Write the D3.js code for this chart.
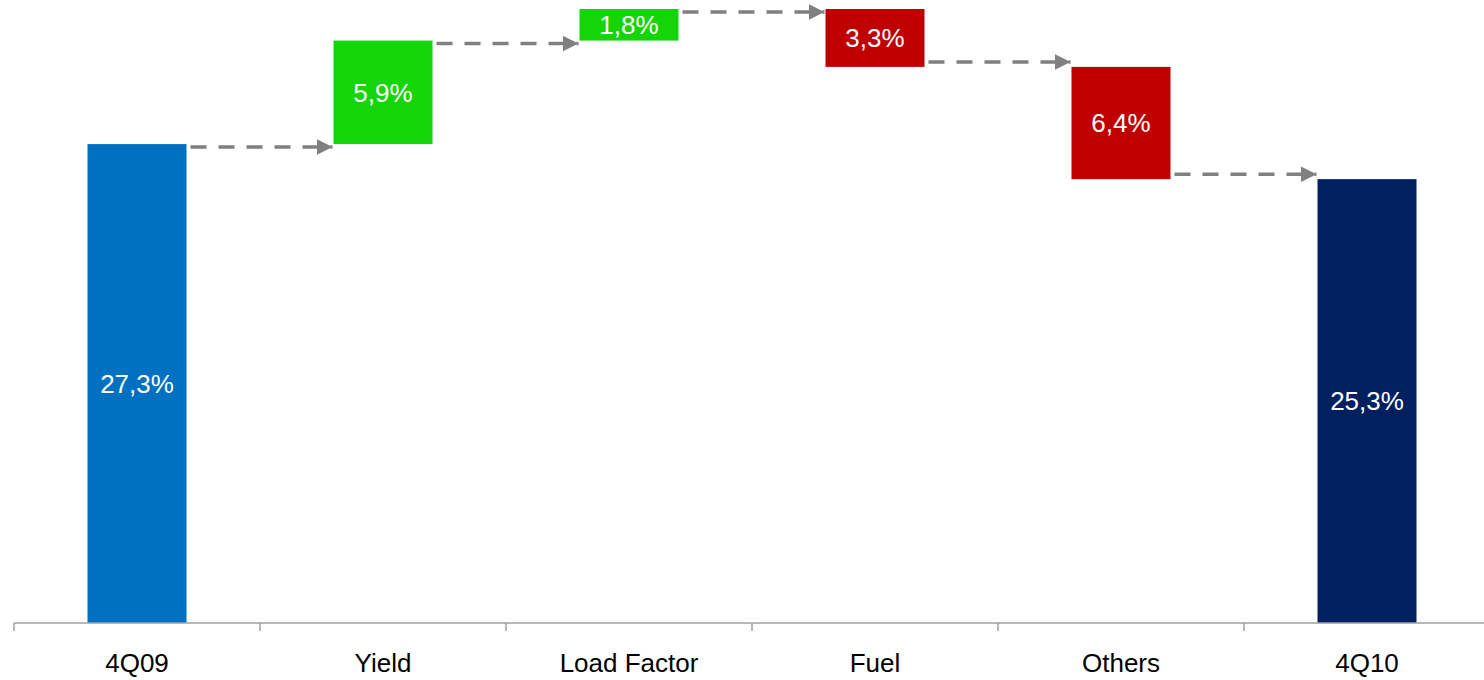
<!DOCTYPE html>
<html>
<head>
<meta charset="utf-8">
<script src="https://cdn.jsdelivr.net/npm/d3@7"></script>
<style>
  body { margin: 0; background: #fff; }
  text { font-family: "Liberation Sans", Arial, sans-serif; }
</style>
</head>
<body>
<div id="svgcontainer"></div>
<script>
// data
var categories = ["4Q09", "Yield", "Load Factor", "Fuel", "Others", "4Q10"];
var amounts = [27.3, 5.9, 1.8, -3.3, -6.4, 25.3];
var kinds = ["start", "up", "up", "down", "down", "total"];
var labels = ["27,3%", "5,9%", "1,8%", "3,3%", "6,4%", "25,3%"];

var colors = { start: "#0070C0", up: "#13D507", down: "#C00000", total: "#002060" };

var W = 1484, H = 680;
var baseY = 623;

var svg = d3.select("#svgcontainer")
    .append("svg")
    .attr("width", W)
    .attr("height", H);

// running totals
var data = [];
var cumulative = 0;
for (var i = 0; i < categories.length; i++) {
    var d = { name: categories[i], kind: kinds[i], label: labels[i] };
    if (kinds[i] == "start" || kinds[i] == "total") {
        d.start = 0;
        d.end = amounts[i];
    } else {
        d.start = cumulative;
        d.end = cumulative + amounts[i];
    }
    cumulative = d.end;
    data.push(d);
}

var x = d3.scaleBand()
    .domain(categories)
    .range([14, 14 + 246 * categories.length])
    .paddingInner(0)
    .paddingOuter(0);

var y = d3.scaleLinear()
    .domain([0, 35])
    .range([baseY, 9]);

var barW = 99;
var barX = function(d) { return x(d.name) + x.bandwidth() / 2 - barW / 2; };

// bars
svg.append("g")
    .selectAll("rect")
    .data(data)
    .join("rect")
    .attr("x", barX)
    .attr("y", function(d) { return y(Math.max(d.start, d.end)); })
    .attr("width", barW)
    .attr("height", function(d) { return Math.abs(y(d.start) - y(d.end)); })
    .attr("fill", function(d) { return colors[d.kind]; });

// bar labels
svg.append("g")
    .selectAll("text")
    .data(data)
    .join("text")
    .attr("x", function(d) { return x(d.name) + x.bandwidth() / 2; })
    .attr("y", function(d) { return (y(d.start) + y(d.end)) / 2; })
    .attr("dy", "0.36em")
    .attr("text-anchor", "middle")
    .attr("fill", "#fff")
    .style("font-size", "26px")
    .text(function(d) { return d.label; });

// arrow head
svg.append("defs").append("marker")
    .attr("id", "arrow")
    .attr("viewBox", "0 0 10 10")
    .attr("refX", 10)
    .attr("refY", 5)
    .attr("markerWidth", 16)
    .attr("markerHeight", 16)
    .attr("markerUnits", "userSpaceOnUse")
    .attr("orient", "auto")
    .append("path")
    .attr("d", "M0,0 L10,5 L0,10 Z")
    .attr("fill", "#808080");

// dashed connectors
var links = data.slice(0, data.length - 1).map(function(d, i) {
    var off = (d.kind == "down") ? -5 : 3;
    return { from: d, to: data[i + 1], yy: y(d.end) + off };
});

svg.append("g")
    .selectAll("line")
    .data(links)
    .join("line")
    .attr("x1", function(l) { return barX(l.from) + barW + 4; })
    .attr("x2", function(l) { return barX(l.to) - 1; })
    .attr("y1", function(l) { return l.yy; })
    .attr("y2", function(l) { return l.yy; })
    .attr("stroke", "#808080")
    .attr("stroke-width", 3.5)
    .attr("stroke-dasharray", "16,12")
    .attr("marker-end", "url(#arrow)");

// axis
var axis = svg.append("g")
    .attr("transform", "translate(0," + baseY + ")")
    .call(d3.axisBottom(x).tickSize(0).tickPadding(31));

axis.select(".domain")
    .attr("stroke", "#a0a0a0")
    .attr("stroke-width", 1.5)
    .attr("d", "M14,0H1484");

axis.selectAll(".tick text")
    .style("font-size", "26px")
    .style("font-family", "Liberation Sans, Arial, sans-serif")
    .attr("fill", "#000");

// tick marks on band boundaries
svg.append("g")
    .selectAll("line")
    .data(categories)
    .join("line")
    .attr("x1", function(c) { return x(c); })
    .attr("x2", function(c) { return x(c); })
    .attr("y1", baseY)
    .attr("y2", baseY + 8)
    .attr("stroke", "#a0a0a0")
    .attr("stroke-width", 1.5);
</script>
</body>
</html>
